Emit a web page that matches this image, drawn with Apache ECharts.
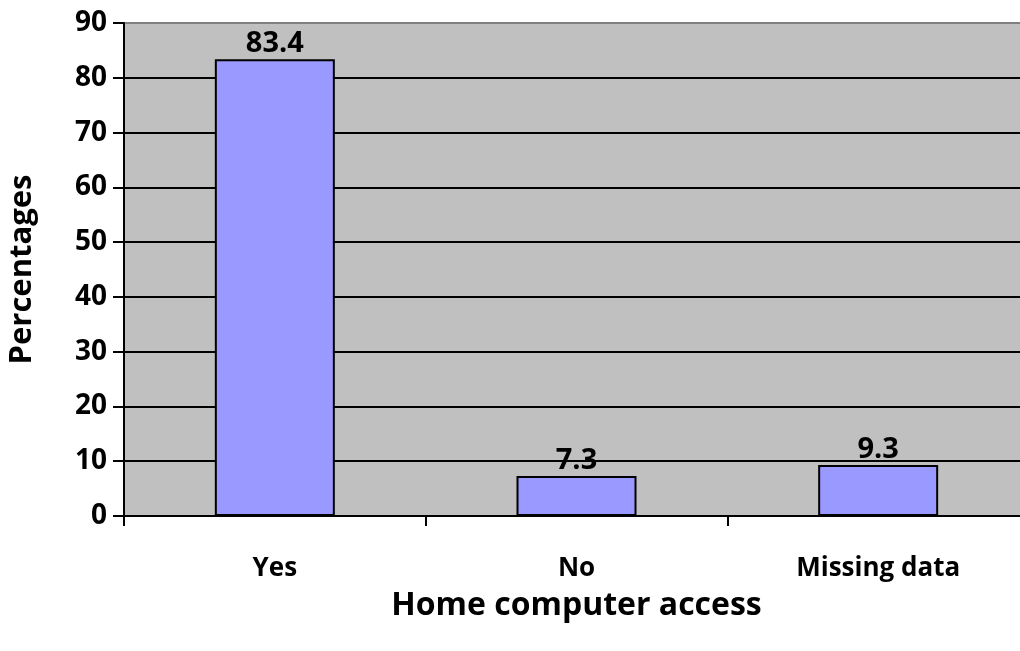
<!DOCTYPE html>
<html><head><meta charset="utf-8">
<script src="https://cdn.jsdelivr.net/npm/echarts@6/dist/echarts.min.js"></script>
<style>html,body{margin:0;padding:0;background:#fff}#c{width:1020px;height:651px}</style>
</head><body><div id="c"></div>
<script>
const categories = ['Yes', 'No', 'Missing data'];
const values = [83.4, 7.3, 9.3];
const yTicks = [0, 10, 20, 30, 40, 50, 60, 70, 80, 90];
const xTitle = 'Home computer access';
const yTitle = 'Percentages';

const FONT = '"Open Sans"';
const chart = echarts.init(document.getElementById('c'), null, {renderer: 'canvas'});
const splitColors = yTicks.map((t, i) => i === yTicks.length - 1 ? '#808080' : '#000000');
chart.setOption({
  animation: false,
  grid: {left: 124, top: 23, width: 905, bottom: 135, outerBoundsMode: 'none', containLabel: false, show: true, backgroundColor: '#C0C0C0', borderColor: '#808080', borderWidth: 2},
  xAxis: {
    type: 'category', data: categories,
    axisLine: {lineStyle: {color: '#000', width: 2}},
    axisTick: {show: true, length: 10, lineStyle: {color: '#000', width: 2}},
    axisLabel: {color: '#000', fontFamily: FONT, fontWeight: 'bold', fontSize: 26, margin: 40},
    name: xTitle, nameLocation: 'middle', nameGap: 74,
    nameTextStyle: {color: '#000', fontFamily: FONT, fontWeight: 'bold', fontSize: 32}
  },
  yAxis: {
    type: 'value', min: 0, max: 90, interval: 10,
    axisLine: {show: true, lineStyle: {color: '#000', width: 2}},
    axisTick: {show: true, length: 11, lineStyle: {color: '#000', width: 2}},
    axisLabel: {color: '#000', fontFamily: FONT, fontWeight: 'bold', fontSize: 28, margin: 17},
    splitLine: {show: true, lineStyle: {color: splitColors, width: 2}},
    name: yTitle, nameLocation: 'middle', nameGap: 86, nameRotate: 90,
    nameTextStyle: {color: '#000', fontFamily: FONT, fontWeight: 'bold', fontSize: 31}
  },
  series: [{
    type: 'bar', data: values, barWidth: 120,
    itemStyle: {color: '#9999FF', borderColor: '#000', borderWidth: 2},
    label: {show: true, position: 'top', distance: 1, color: '#000', fontFamily: FONT, fontWeight: 'bold', fontSize: 29, formatter: p => p.value.toFixed(1)}
  }]
});
</script></body></html>
